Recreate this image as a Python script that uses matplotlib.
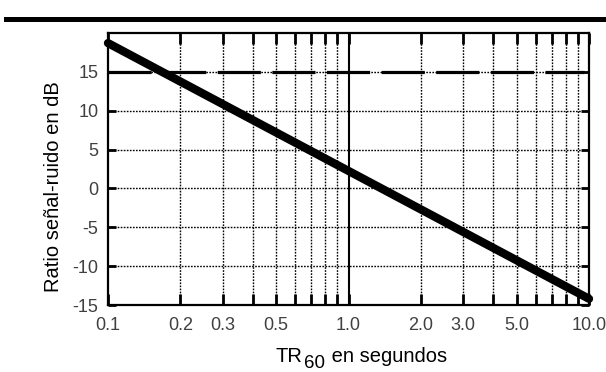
import matplotlib
matplotlib.use("Agg")
import matplotlib.pyplot as plt
from matplotlib.ticker import FixedLocator, FixedFormatter, NullFormatter
from matplotlib.lines import Line2D

plt.rcParams['font.family'] = ['Liberation Sans', 'DejaVu Sans']

# data
tr60 = [0.1, 10.0]
snr = [18.7, -14.2]
ref_level = 15
xticks = [0.1, 0.2, 0.3, 0.5, 1.0, 2.0, 3.0, 5.0, 10.0]
xticklabels = ['0.1', '0.2', '0.3', '0.5', '1.0', '2.0', '3.0', '5.0', '10.0']
xgrid = [0.2, 0.3, 0.4, 0.5, 0.6, 0.7, 0.8, 0.9, 2, 3, 4, 5, 6, 7, 8, 9]
yticks = [-15, -10, -5, 0, 5, 10, 15]

W, H = 606, 372
fig = plt.figure(figsize=(W / 100, H / 100), dpi=100)
ax = fig.add_axes([108 / W, 1 - 305 / H, (589 - 108) / W, (305 - 33) / H])

ax.set_xscale('log')
ax.set_xlim(0.1, 10)
ax.set_ylim(-15, 20)

# grid
for xv in xgrid:
    ax.axvline(xv, color='black', lw=1.0, ls=(0, (1.2, 1.0)), zorder=1)
ax.axvline(1.0, color='black', lw=1.5, zorder=1)
for yv in yticks[1:]:
    ax.axhline(yv, color='black', lw=1.0, ls=(0, (1.2, 1.0)), zorder=1)

# reference dashed line
ax.plot([0.1, 9.55], [ref_level, ref_level], color='black', lw=2.3,
        ls=(0, (13.5, 3.6)), solid_capstyle='butt', zorder=2)

# main line
ax.plot(tr60, snr, color='black', lw=6, solid_capstyle='round', zorder=3,
        clip_on=False)

ax.xaxis.set_major_locator(FixedLocator(xticks))
ax.xaxis.set_major_formatter(FixedFormatter(xticklabels))
ax.xaxis.set_minor_locator(FixedLocator(xgrid))
ax.xaxis.set_minor_formatter(NullFormatter())
ax.set_yticks(yticks)
ax.set_yticklabels([str(v) for v in yticks])

ax.tick_params(axis='both', which='both', direction='in', width=2,
               top=True, right=True, colors='black', labelcolor='#404040',
               labelsize=13)
ax.tick_params(axis='x', which='both', length=8, pad=9)
ax.tick_params(axis='y', which='major', length=6, pad=7)

for s in ax.spines.values():
    s.set_linewidth(1.6)

ax.set_ylabel('Ratio señal-ruido en dB', fontsize=14.5, color='black')
ax.yaxis.set_label_coords(-0.094, 0.436)

# x label built from pieces (subscript nearly full size)
fig.canvas.draw()
r = fig.canvas.get_renderer()
t1 = fig.text(275 / W, 1 - 362 / H, 'TR', fontsize=14.5, ha='left', va='baseline')
bb = t1.get_window_extent(r)
t2 = fig.text((bb.x1 + 2) / W, 1 - 368 / H, '60', fontsize=13.5, ha='left', va='baseline')
bb2 = t2.get_window_extent(r)
fig.text((bb2.x1 + 1) / W, 1 - 362 / H, ' en segundos', fontsize=14.5, ha='left', va='baseline')

# top rule
fig.add_artist(Line2D([6 / W, 1.0], [1 - 18.5 / H, 1 - 18.5 / H], color='black', lw=3.6))

fig.savefig('out.png', dpi=100)
